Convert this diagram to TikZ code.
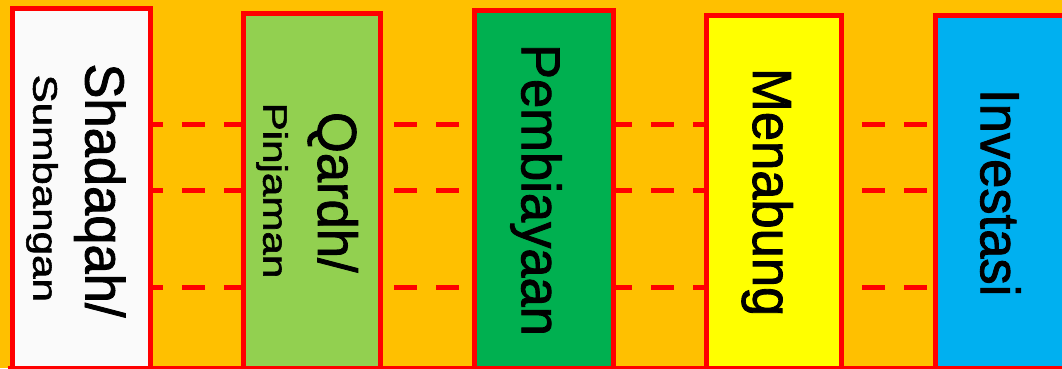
\documentclass[tikz,border=0pt]{standalone}
\usepackage{fontspec}
\setmainfont{Liberation Sans}
\newfontfamily\lblfont[FakeBold=1.6]{Liberation Sans}
\definecolor{bgorange}{HTML}{FFC000}
\definecolor{bred}{HTML}{FF0000}
\definecolor{cwhite}{HTML}{FAFAFA}
\definecolor{clgreen}{HTML}{92D050}
\definecolor{cgreen}{HTML}{00B050}
\definecolor{cyellow}{HTML}{FFFF00}
\definecolor{cblue}{HTML}{00B0F0}
\newcommand{\mainlbl}[1]{\lblfont\fontsize{55}{60}\selectfont\scalebox{0.955}[1]{#1}}
\newcommand{\sublbl}[1]{\lblfont\fontsize{34}{40}\selectfont\scalebox{1.24}[1]{#1}}
\begin{document}
\begin{tikzpicture}[x=1pt,y=-1pt,
  colbox/.style={draw=bred, line width=5pt, rectangle, inner sep=0pt, outer sep=0pt},
  lbl/.style={rotate=-90, anchor=base, inner sep=0pt, outer sep=0pt, text=black},
  dashline/.style={draw=bred, line width=5pt, dash pattern=on 23pt off 19pt}]
\useasboundingbox (0,0) rectangle (1062,368);
\clip (0,0) rectangle (1062,368);
\fill[bgorange] (0,0) rectangle (1062,368);
% boxes
\node[colbox, fill=cwhite, minimum width=137.5pt, minimum height=360.7pt] (b1) at (81.25,188.65) {};
\node[colbox, fill=clgreen, minimum width=137.7pt, minimum height=355.7pt] (b2) at (311.85,191.15) {};
\node[colbox, fill=cgreen, minimum width=138.3pt, minimum height=358.7pt] (b3) at (543.85,189.65) {};
\node[colbox, fill=cyellow, minimum width=135pt, minimum height=354pt] (b4) at (773.8,192) {};
\node[colbox, fill=cblue, minimum width=144.3pt, minimum height=354pt] (b5) at (1007.85,192) {};
% bottom rule
\coordinate (bl) at (8,367.5);
\coordinate (br) at (1062,367.5);
\draw[bred, line width=3pt] (bl) -- (br);
% row levels
\coordinate (r1) at (0,124.5);
\coordinate (r2) at (0,190.5);
\coordinate (r3) at (0,287.5);
\foreach \r in {r1,r2,r3}{
  \draw[dashline, dash phase=10pt] (b1.east |- \r) -- (b2.west |- \r);
  \draw[dashline, dash phase=28.7pt] (b2.east |- \r) -- (b3.west |- \r);
  \draw[dashline, dash phase=4pt] (b3.east |- \r) -- (b4.west |- \r);
  \draw[dashline, dash phase=21pt] (b4.east |- \r) -- (b5.west |- \r);
}
% labels
\node[lbl] (t1a) at (85.5,190.5) {\mainlbl{Shadaqah/}};
\node[lbl] (t1b) at (33.3,188.3) {\sublbl{Sumbangan}};
\node[lbl] (t2a) at (318,192.3) {\mainlbl{Qardh/}};
\node[lbl] (t2b) at (263.3,190.5) {\sublbl{Pinjaman}};
\node[lbl] (t3) at (521.7,190) {\mainlbl{Pembiayaan}};
\node[lbl] (t4) at (753,192.2) {\mainlbl{Menabung}};
\node[lbl] (t5) at (980.7,192.7) {\mainlbl{Investasi}};
\end{tikzpicture}
\end{document}
